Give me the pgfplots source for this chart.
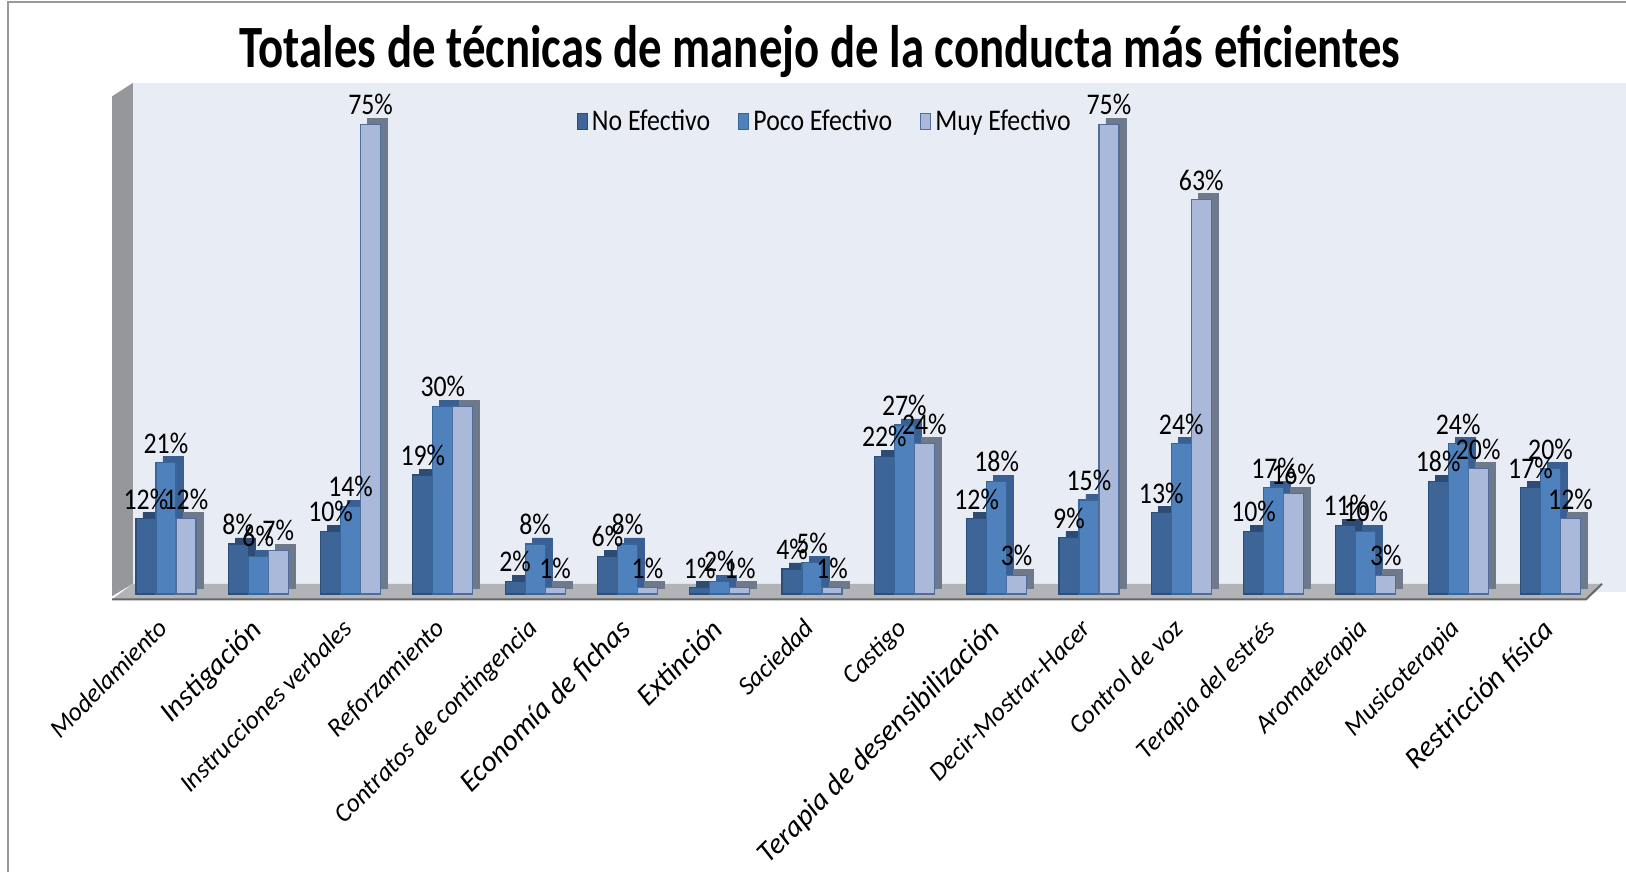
\documentclass[border=0pt]{standalone}
\usepackage{fontspec}
\setmainfont{Carlito}
\newfontfamily\sq{Carlito}[FakeStretch=0.86]
\newfontfamily\titlefont{Carlito}[FakeStretch=0.78]
\usepackage{pgfplots}
\pgfplotsset{compat=1.18}
\definecolor{cNo}{HTML}{3E6598}
\definecolor{cNoE}{HTML}{2C4D78}
\definecolor{cNoS}{HTML}{2D4B73}
\definecolor{cPo}{HTML}{4F81BD}
\definecolor{cPoE}{HTML}{38659A}
\definecolor{cPoS}{HTML}{3A6093}
\definecolor{cMu}{HTML}{AAB9D9}
\definecolor{cMuE}{HTML}{4F6E9E}
\definecolor{cMuS}{HTML}{6E7A8C}
\definecolor{wallc}{HTML}{E8ECF5}
\definecolor{lwall}{HTML}{96979B}
\definecolor{floorc}{HTML}{B2B3B6}
\newcommand{\lablab}{\fontsize{13}{14}\selectfont\itshape}
\newcommand{\largelab}{\fontsize{14.7}{16}\selectfont}
\begin{document}
\begin{tikzpicture}
\useasboundingbox (0,0) rectangle (813pt,436pt);
\draw[gray!80, line width=0.8pt] (4pt,0) -- (4pt,435pt) -- (813pt,435pt);
\fill[wallc] (66.4pt,140pt) rectangle (813pt,394.5pt);
\fill[lwall] (56pt,137.9pt) -- (66.4pt,144.1pt) -- (66.4pt,394.5pt) -- (56pt,387.8pt) -- cycle;
\fill[floorc] (56pt,136.3pt) -- (66.4pt,144.1pt) -- (801pt,144.1pt) -- (793pt,136.3pt) -- cycle;
\draw[gray!80!black, line width=1pt] (56pt,136.3pt) -- (793pt,136.3pt) -- (801pt,144.1pt);
\node[anchor=base, font={\titlefont\bfseries\fontsize{30}{32}\selectfont}] at (410pt,402.3pt) {Totales de técnicas de manejo de la conducta más eficientes};
\begin{axis}[
  at={(59.9pt,139pt)}, anchor=south west,
  scale only axis, width=738.4pt, height=256.7pt,
  xmin=-0.5, xmax=15.5, ymin=0, ymax=82,
  ybar=0pt, bar width=10pt,
  axis line style={draw=none},
  ytick=\empty, xtick={0,...,15},
  major tick length=0pt,
  clip=false,
  /pgf/number format/assume math mode=true,
  xticklabels={Modelamiento,{\largelab Instigación},Instrucciones verbales,Reforzamiento,Contratos de contingencia,{\largelab Economía de fichas},{\largelab Extinción},Saciedad,Castigo,{\largelab Terapia de desensibilización},Decir-Mostrar-Hacer,Control de voz,Terapia del estrés,Aromaterapia,Musicoterapia,{\largelab Restricción física}},
  xticklabel style={xshift=-4.7pt, yshift=-11.4pt, rotate=45, anchor=north east, font=\lablab, inner sep=0pt},
  nodes near coords={\pgfmathprintnumber{\pgfplotspointmeta}\%},
  nodes near coords style={font={\sq\fontsize{15}{16}\selectfont}, anchor=south, yshift=1pt, text=black},
  legend style={at={(axis description cs:0.478,0.92)}, anchor=center, draw=none, fill=none,
    font={\sq\fontsize{15}{16}\selectfont}, legend columns=3,
    /tikz/every even column/.append style={column sep=12pt}},
  legend image code/.code={\draw[#1, line width=0.6pt] (0pt,-4pt) rectangle (5pt,4pt);},
]
% No Efectivo
\addplot[forget plot, fill=cNoS, draw=cNoS, bar shift=-6.5pt, yshift=3pt, nodes near coords={}] coordinates {(0,12) (1,8) (2,10) (3,19) (4,2) (5,6) (6,1) (7,4) (8,22) (9,12) (10,9) (11,13) (12,10) (13,11) (14,18) (15,17)};
\addplot[fill=cNo, draw=cNoE, line width=0.6pt, bar shift=-10pt] coordinates {(0,12) (1,8) (2,10) (3,19) (4,2) (5,6) (6,1) (7,4) (8,22) (9,12) (10,9) (11,13) (12,10) (13,11) (14,18) (15,17)};
\addlegendentry{No Efectivo}
% Poco Efectivo
\addplot[forget plot, fill=cPoS, draw=cPoS, bar shift=3.5pt, yshift=3pt, nodes near coords={}] coordinates {(0,21) (1,6) (2,14) (3,30) (4,8) (5,8) (6,2) (7,5) (8,27) (9,18) (10,15) (11,24) (12,17) (13,10) (14,24) (15,20)};
\addplot[fill=cPo, draw=cPoE, line width=0.6pt, bar shift=0pt] coordinates {(0,21) (1,6) (2,14) (3,30) (4,8) (5,8) (6,2) (7,5) (8,27) (9,18) (10,15) (11,24) (12,17) (13,10) (14,24) (15,20)};
\addlegendentry{Poco Efectivo}
% Muy Efectivo
\addplot[forget plot, fill=cMuS, draw=cMuS, bar shift=13.5pt, yshift=3pt, nodes near coords={}] coordinates {(0,12) (1,7) (2,75) (3,30) (4,1) (5,1) (6,1) (7,1) (8,24) (9,3) (10,75) (11,63) (12,16) (13,3) (14,20) (15,12)};
\addplot[fill=cMu, draw=cMuE, line width=0.6pt, bar shift=10pt] coordinates {(0,12) (1,7) (2,75) (4,1) (5,1) (6,1) (7,1) (8,24) (9,3) (10,75) (11,63) (12,16) (13,3) (14,20) (15,12)};
\addlegendentry{Muy Efectivo}
\addplot[forget plot, fill=cMu, draw=cMuE, line width=0.6pt, bar shift=10pt, nodes near coords={}] coordinates {(3,30)};
\end{axis}
\end{tikzpicture}
\end{document}
